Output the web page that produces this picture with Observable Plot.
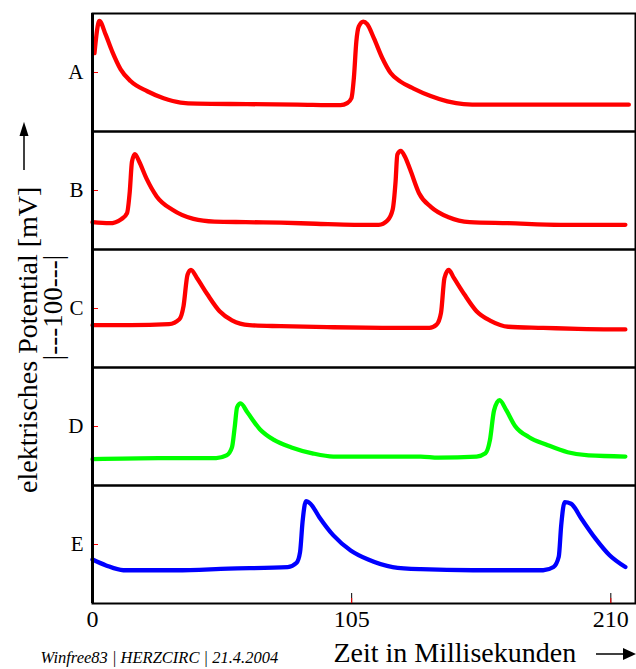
<!DOCTYPE html>
<html>
<head>
<meta charset="utf-8">
<script src="https://cdn.jsdelivr.net/npm/d3@7"></script>
<script src="https://cdn.jsdelivr.net/npm/@observablehq/plot@0.6"></script>
<style>
  html, body { margin: 0; padding: 0; background: #fff; }
  #chart svg { display: block; overflow: visible; }
</style>
</head>
<body>
<div id="chart"></div>
<script>
// Panels and colours
const panels = ["A", "B", "C", "D", "E"];
const panelColors = ["#ff0000", "#ff0000", "#ff0000", "#00ff00", "#0000ff"];

// Time (ms) and potential (mV), one pair of arrays per panel
const tA = [0.8, 2.8, 5.3, 8.0, 11.4, 15.4, 22.2, 28.8, 35.7, 42.4, 62.7, 83.0, 100.5, 103.2, 104.9, 105.9, 106.9, 107.9, 109.7, 111.3, 114.0, 117.4, 120.8, 124.8, 130.1, 137.0, 143.8, 150.4, 157.3, 189.7, 217.3];
const vA = [-22, 8, -4.5, -20.5, -37, -48, -57.5, -64, -68, -69, -69.5, -70, -70.5, -68.5, -64, -45, -11, 3, 7.5, 5, -8, -26.5, -40.5, -48.5, -55, -62, -67, -69.5, -70, -70, -70];

const tB = [0, 6.9, 11.8, 14.0, 15.1, 16.0, 17.2, 18.9, 21.8, 26.0, 32.4, 40.9, 49.4, 62.1, 76.3, 90.5, 106.1, 116.0, 119.5, 121.6, 122.8, 123.5, 124.9, 126.6, 128.7, 132.3, 137.2, 144.3, 152.8, 168.4, 189.7, 215.9];
const vB = [-69.5, -70.5, -66.5, -61, -41, -13, -6, -13, -28.5, -45.5, -58, -66.5, -69, -69.5, -70, -71, -72, -72, -68, -58, -31.5, -6.5, -3, -8.5, -20.5, -42.5, -55.5, -65, -69.5, -70.5, -72, -72];

const tC = [0, 15.4, 31.0, 35.2, 36.9, 38.5, 39.9, 42.3, 46.6, 51.5, 56.5, 63.6, 76.3, 97.6, 121.6, 136.5, 139.4, 141.2, 142.6, 144.3, 146.4, 150.7, 155.6, 161.3, 168.4, 182.6, 196.7, 215.9];
const vC = [-55.5, -55.5, -54.5, -50, -37.5, -8.5, -4, -11.5, -27, -42.5, -51, -55.5, -56.5, -57.5, -58, -58, -55, -44, -11.5, -4, -11.5, -27, -42.5, -51.5, -57, -58, -59, -59.5];

const tD = [0, 26.7, 50.1, 54.3, 56.5, 57.6, 58.6, 60.0, 62.8, 67.8, 73.5, 80.6, 89.1, 97.6, 111.7, 133.0, 140.1, 155.6, 159.2, 161.0, 162.7, 164.9, 167.7, 171.2, 176.9, 184.0, 192.5, 201.0, 215.9];
const vD = [-70.5, -69.5, -69.5, -67, -59.5, -41, -22, -18.5, -27, -42.5, -52.5, -59.5, -65, -68, -68, -68, -69, -68, -65, -53, -25, -15.5, -25, -39.5, -50, -57, -64, -67, -68];

const tE = [0, 5.5, 12.5, 33.8, 55.1, 79.1, 82.7, 84.1, 85.1, 86.5, 88.3, 91.9, 97.6, 104.6, 111.7, 121.6, 133.0, 154.2, 182.6, 186.8, 188.9, 189.9, 191.3, 193.9, 198.1, 203.8, 209.5, 215.9];
const vE = [-54, -59.5, -64, -64, -62.5, -61, -57, -47, -19, 0.5, -2, -14.5, -31.5, -45.5, -54, -61, -63, -64, -64, -61, -51.5, -22, -0.5, -2, -16, -34.5, -50, -61];

// Axis ticks and labels
const xTicks = [0, 105, 210];
const xDomain = [0, 220];
const yDomain = [-95, 15];
const yMarkTicks = [-40];
const xLabel = "Zeit in Millisekunden";
const yLabel = "elektrisches Potential [mV]";
const scaleBarLabel = "|---100---|";
const credit = "Winfree83 | HERZCIRC | 21.4.2004";

const series = [[tA, vA], [tB, vB], [tC, vC], [tD, vD], [tE, vE]];
const data = series.flatMap(([ts, vs], i) => ts.map((t, j) => ({panel: panels[i], t, v: vs[j]})));

const serif = "'Liberation Serif', 'Times New Roman', serif";

const chart = Plot.plot({
  width: 636,
  height: 669,
  marginTop: 12,
  marginBottom: 66,
  marginLeft: 92,
  marginRight: 1,
  style: {fontFamily: serif, background: "white", color: "black"},
  x: {domain: xDomain},
  y: {domain: yDomain},
  fy: {domain: panels, padding: 0},
  color: {domain: panels, range: panelColors},
  marks: [
    Plot.frame({stroke: "black", strokeWidth: 2}),
    Plot.axisY({ticks: yMarkTicks, tickSize: -6, stroke: "red", tickFormat: () => "", label: null}),
    Plot.axisFy({anchor: "left", tickSize: 0, tickPadding: 9, fontSize: 21, label: null}),
    Plot.axisX({ticks: xTicks, tickSize: -10, tickPadding: 16, fontSize: 24, label: null}),
    Plot.axisX({ticks: xTicks, tickSize: -5, stroke: "red", tickFormat: () => "", label: null}),
    Plot.line(data, {x: "t", y: "v", fy: "panel", stroke: "panel", strokeWidth: 4.3, strokeLinejoin: "round", strokeLinecap: "round", curve: "monotone-x"}),
    Plot.ruleX([0], {stroke: "black", strokeWidth: 3})
  ]
});

document.getElementById("chart").appendChild(chart);

// Extra labels in the margins
const svg = d3.select(chart.tagName.toLowerCase() === "svg" ? chart : chart.querySelector("svg"));
const g = svg.append("g").attr("font-family", serif).attr("fill", "black").attr("text-anchor", "start");

g.append("text")
  .attr("transform", "translate(37,493) rotate(-90)")
  .attr("font-size", 28)
  .attr("text-anchor", "start")
  .text(yLabel);
g.append("path").attr("d", "M24,170V134").attr("stroke", "black").attr("stroke-width", 1.5);
g.append("path").attr("d", "M24,121.7L19.5,136L28.5,136Z").attr("fill", "black");

g.append("text")
  .attr("transform", "translate(61.5,307.5) rotate(-90)")
  .attr("font-size", 27)
  .attr("text-anchor", "middle")
  .text(scaleBarLabel);

g.append("text")
  .attr("x", 333.5).attr("y", 662)
  .attr("font-size", 28)
  .attr("text-anchor", "start")
  .text(xLabel);
g.append("path").attr("d", "M596,654H624").attr("stroke", "black").attr("stroke-width", 1.5);
g.append("path").attr("d", "M636,654L623,648L623,660Z").attr("fill", "black");

g.append("text")
  .attr("x", 40.6).attr("y", 662.7)
  .attr("font-size", 16.5)
  .attr("font-style", "italic")
  .attr("text-anchor", "start")
  .text(credit);
</script>
</body>
</html>
